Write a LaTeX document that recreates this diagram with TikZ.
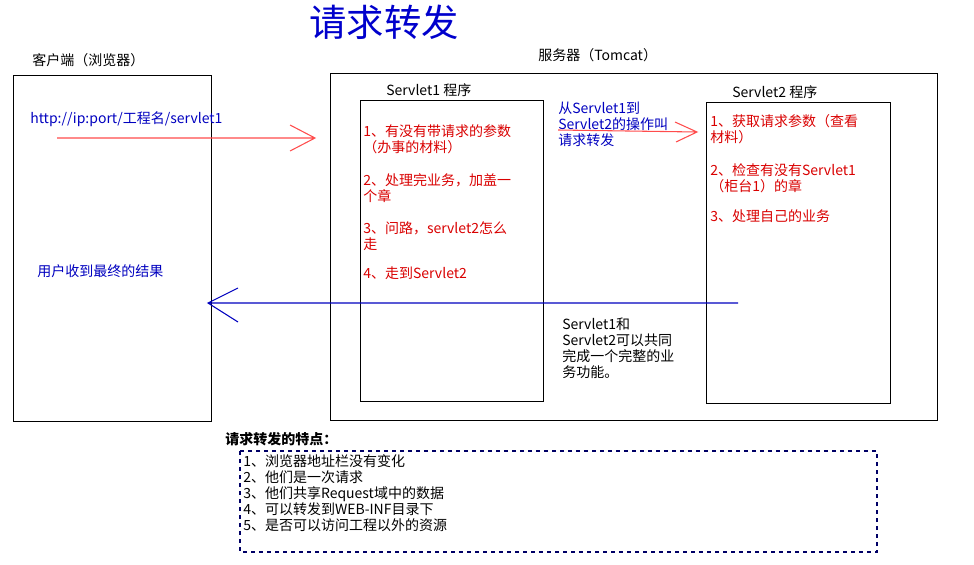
\documentclass[tikz,border=0pt]{standalone}
\usepackage{fontspec}
\setmainfont{Noto Sans CJK SC}
\begin{document}
\begin{tikzpicture}[x=0.75pt,y=-0.75pt,
  box/.style={draw=black,line width=0.8pt},
  t/.style={anchor=west,inner sep=0pt,font=\fontsize{10.5}{12}\selectfont,align=left},
  red/.style={text=red!85!black},
  blu/.style={text=blue!75!black}]
\useasboundingbox (0,0) rectangle (974,564);
\node[text=blue!80!black,font=\fontsize{28}{30}\selectfont] (title) at (384,22) {请求转发};
\node[box,minimum width=198*0.75pt,minimum height=346*0.75pt,anchor=north west] (client) at (13,75) {};
\node[t] (cl) at (32,60) {客户端（浏览器）};
\node[box,minimum width=607*0.75pt,minimum height=347*0.75pt,anchor=north west] (server) at (330,73) {};
\node[t] (sl) at (538,55) {服务器（Tomcat）};
\node[box,minimum width=183*0.75pt,minimum height=301*0.75pt,anchor=north west] (s1) at (360,100) {};
\node[t] (s1l) at (386,90) {Servlet1 程序};
\node[box,minimum width=184*0.75pt,minimum height=301*0.75pt,anchor=north west] (s2) at (706,102) {};
\node[t] (s2l) at (732,92) {Servlet2 程序};
\node[t,blu] (url) at (30,119) {http://ip:port/工程名/servlet1};
\coordinate (a1s) at (57,138); \coordinate (a1e) at (315,138);
\draw[red!70,line width=0.8pt] (a1s) -- (a1e) (290,125) -- (a1e) -- (290,151);
\node[t,red] (r1) at (363,139) {1、有没有带请求的参数\\（办事的材料）};
\node[t,red] (r2) at (363,188) {2、处理完业务，加盖一\\个章};
\node[t,red] (r3) at (363,236) {3、问路，servlet2怎么\\走};
\node[t,red] (r4) at (363,273) {4、走到Servlet2};
\node[t,blu] (fw) at (558,124) {从Servlet1到\\Servlet2的操作叫\\请求转发};
\coordinate (a2s) at (558,130); \coordinate (a2e) at (697,132);
\draw[red!70,line width=0.8pt] (a2s) -- (a2e) (675,122) -- (a2e) -- (676,142);
\node[t,red] (q1) at (710,129) {1、获取请求参数（查看\\材料）};
\node[t,red] (q2) at (710,178) {2、检查有没有Servlet1\\（柜台1）的章};
\node[t,red] (q3) at (710,216) {3、处理自己的业务};
\coordinate (a3s) at (738,303); \coordinate (a3e) at (208,303);
\draw[blue!75!black,line width=0.8pt] (a3s) -- (a3e) (238,288) -- (a3e) -- (238,322);
\node[t,blu] (res) at (37,271) {用户收到最终的结果};
\node[t] (both) at (562,348) {Servlet1和\\Servlet2可以共同\\完成一个完整的业\\务功能。};
\node[t,font=\fontsize{10.5}{12}\selectfont\bfseries] (feat) at (225,439) {请求转发的特点：};
\draw[blue!40!black,dashed,line width=0.8pt] (240,451) rectangle (877,552);
\node[t,font=\fontsize{10.5}{12}\selectfont,anchor=north west] (list) at (243,454) {1、浏览器地址栏没有变化\\2、他们是一次请求\\3、他们共享Request域中的数据\\4、可以转发到WEB-INF目录下\\5、是否可以访问工程以外的资源};
\end{tikzpicture}
\end{document}
